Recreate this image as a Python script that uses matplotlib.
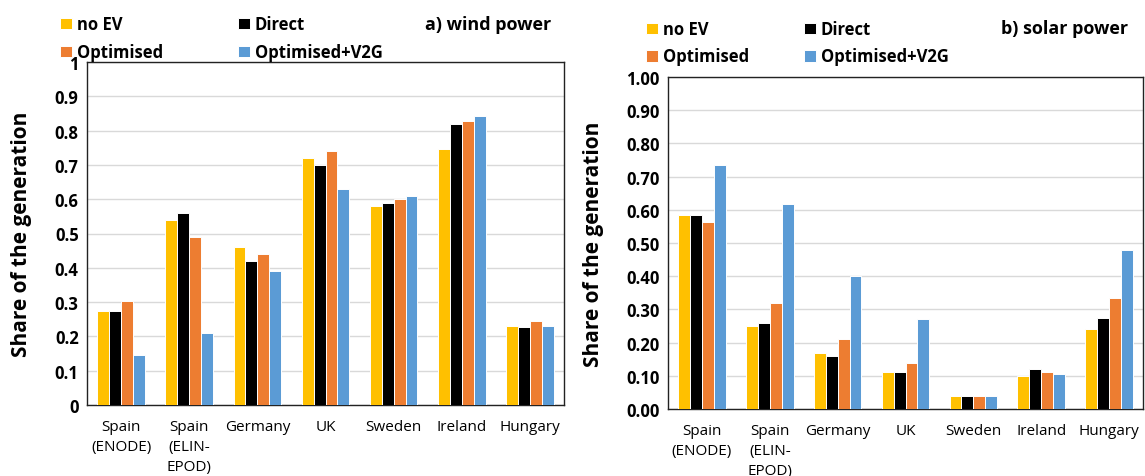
import numpy as np
import matplotlib.pyplot as plt

plt.rcParams['font.family'] = ['Open Sans', 'DejaVu Sans']

countries = ['Spain\n(ENODE)', 'Spain\n(ELIN-\nEPOD)', 'Germany', 'UK', 'Sweden', 'Ireland', 'Hungary']
series = ['no EV', 'Direct', 'Optimised', 'Optimised+V2G']
colors = ['#FFC000', '#000000', '#ED7D31', '#5B9BD5']

# a) wind power
wind_noev = [0.275, 0.54, 0.46, 0.72, 0.58, 0.745, 0.23]
wind_direct = [0.275, 0.56, 0.42, 0.70, 0.59, 0.82, 0.227]
wind_opt = [0.302, 0.49, 0.44, 0.74, 0.60, 0.828, 0.245]
wind_v2g = [0.145, 0.21, 0.39, 0.63, 0.61, 0.843, 0.23]

# b) solar power
solar_noev = [0.583, 0.25, 0.17, 0.11, 0.04, 0.10, 0.24]
solar_direct = [0.583, 0.26, 0.16, 0.11, 0.04, 0.12, 0.275]
solar_opt = [0.563, 0.32, 0.21, 0.14, 0.04, 0.11, 0.333]
solar_v2g = [0.735, 0.618, 0.40, 0.27, 0.04, 0.105, 0.478]

W, H = 1145, 477
fig = plt.figure(figsize=(W/100, H/100), dpi=100)

def px_axes(l, t, r, b):
    return fig.add_axes([l/W, 1-b/H, (r-l)/W, (b-t)/H])

def draw(ax, data, fmt):
    x = np.arange(len(countries))
    bw = 0.175
    handles = []
    for i, (vals, c) in enumerate(zip(data, colors)):
        h = ax.bar(x + (i-1.5)*bw, vals, bw, color=c, edgecolor='white', linewidth=0.7,
                   label=series[i], zorder=3)
        handles.append(h)
    ax.set_xlim(-0.5, len(countries)-0.5)
    ax.set_ylim(0, 1)
    ax.set_yticks(np.arange(0, 1.01, 0.1))
    ax.set_yticklabels([fmt(v) for v in np.arange(0, 1.01, 0.1)], fontsize=12, fontweight='bold')
    ax.set_xticks(x)
    ax.set_xticklabels(countries, fontsize=11, va='top', linespacing=1.45)
    ax.tick_params(axis='x', length=0, pad=10)
    ax.tick_params(axis='y', length=0, pad=6)
    ax.grid(axis='y', color='#D9D9D9', linewidth=1, zorder=0)
    for s in ax.spines.values():
        s.set_color('#222222')
        s.set_linewidth(1.0)
    ax.set_ylabel('Share of the generation', fontsize=15, fontweight='bold', labelpad=10)
    return handles

ax1 = px_axes(87, 63, 564, 406)
h1 = draw(ax1, [wind_noev, wind_direct, wind_opt, wind_v2g],
          lambda v: '0' if v < 1e-9 else ('1' if v > 0.999 else f'{v:.1f}'))
ax1.yaxis.labelpad = 16

ax2 = px_axes(668, 78, 1143, 410)
h2 = draw(ax2, [solar_noev, solar_direct, solar_opt, solar_v2g], lambda v: f'{v:.2f}')
ax2.yaxis.labelpad = 16

order = [0, 2, 1, 3]
fig.legend([h1[i] for i in order], [series[i] for i in order], ncol=2,
           loc='upper left', bbox_to_anchor=(52/W, 1-8/H), frameon=False,
           prop={'size': 12, 'weight': 'bold'}, handlelength=0.7, handleheight=0.7,
           handletextpad=0.3, columnspacing=4.5, labelspacing=0.6, borderpad=0)
fig.legend([h2[i] for i in order], [series[i] for i in order], ncol=2,
           loc='upper left', bbox_to_anchor=(638/W, 1-13/H), frameon=False,
           prop={'size': 12, 'weight': 'bold'}, handlelength=0.7, handleheight=0.7,
           handletextpad=0.3, columnspacing=3.3, labelspacing=0.55, borderpad=0)

fig.text(425/W, 1-25/H, 'a) wind power', fontsize=13, fontweight='bold', va='center', ha='left')
fig.text(1001/W, 1-29/H, 'b) solar power', fontsize=13, fontweight='bold', va='center', ha='left')

fig.savefig('out.png', dpi=100)
